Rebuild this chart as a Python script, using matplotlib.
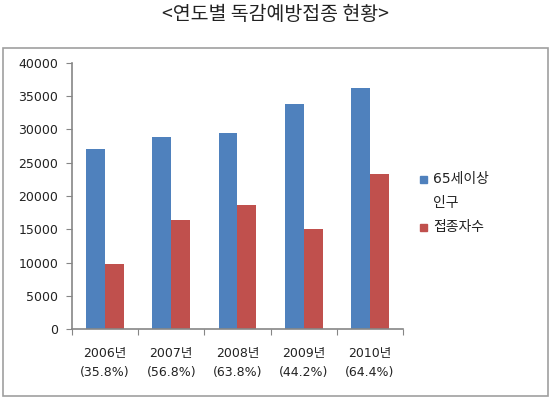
"""Yearly flu vaccination chart (65+ population vs vaccinated)."""
import matplotlib
matplotlib.use("Agg")
import matplotlib.pyplot as plt
from matplotlib.patches import Rectangle
import numpy as np

plt.rcParams["font.family"] = ["DejaVu Sans", "Noto Sans CJK KR"]

years = ["2006년", "2007년", "2008년", "2009년", "2010년"]
rates = ["(35.8%)", "(56.8%)", "(63.8%)", "(44.2%)", "(64.4%)"]
population_65 = [27000, 28800, 29400, 33900, 36200]
vaccinated = [9700, 16400, 18700, 15100, 23300]
series_labels = [["65세이상", "인구"], ["접종자수"]]

BLUE = "#4F81BD"
RED = "#C0504D"
AXIS = "#868686"
TEXT = "#222222"

W, H = 550, 399
fig = plt.figure(figsize=(W / 100, H / 100), dpi=100)

# outer chart-area frame
fig.patches.append(Rectangle((3 / W, 3 / H), 545 / W, 348 / H,
                             transform=fig.transFigure, fill=False,
                             edgecolor="#A0A0A0", linewidth=1.2))

fig.text(0.5, 1 - 15 / H, "<연도별 독감예방접종 현황>", ha="center", va="center",
         fontsize=14, color=TEXT, family=["Noto Sans CJK KR"])

ax = fig.add_axes([72 / W, 70 / H, 331 / W, 266 / H])
x = np.arange(len(years))
w = 0.285
ax.bar(x - w / 2, population_65, w, color=BLUE)
ax.bar(x + w / 2, vaccinated, w, color=RED)

ax.set_xlim(-0.5, len(years) - 0.5)
ax.set_ylim(0, 40000)
ax.set_yticks(range(0, 40001, 5000))
ax.set_xticks(np.arange(-0.5, len(years), 1.0))
ax.set_xticklabels([])
ax.tick_params(axis="both", direction="out", length=4, color=AXIS, labelsize=9,
               labelcolor=TEXT)
ax.tick_params(axis="y", pad=6)
for i, (yr, rt) in enumerate(zip(years, rates)):
    ax.text(i, -2700, f"{yr}\n{rt}", ha="center", va="top", fontsize=9,
            color=TEXT, linespacing=1.6)

for side in ("top", "right"):
    ax.spines[side].set_visible(False)
for side in ("left", "bottom"):
    ax.spines[side].set_color(AXIS)
    ax.spines[side].set_linewidth(1.2)

# legend: marker sits next to the first line of each label
legend_y = [[179, 203], [227]]
for color, lines, ys in zip((BLUE, RED), series_labels, legend_y):
    fig.patches.append(Rectangle((420 / W, 1 - (ys[0] + 4) / H), 7 / W, 7 / H,
                                 transform=fig.transFigure, color=color))
    for line, y in zip(lines, ys):
        fig.text(433 / W, 1 - y / H, line, ha="left", va="center",
                 fontsize=10, color=TEXT)

fig.savefig("out.png", dpi=100)
plt.close(fig)
